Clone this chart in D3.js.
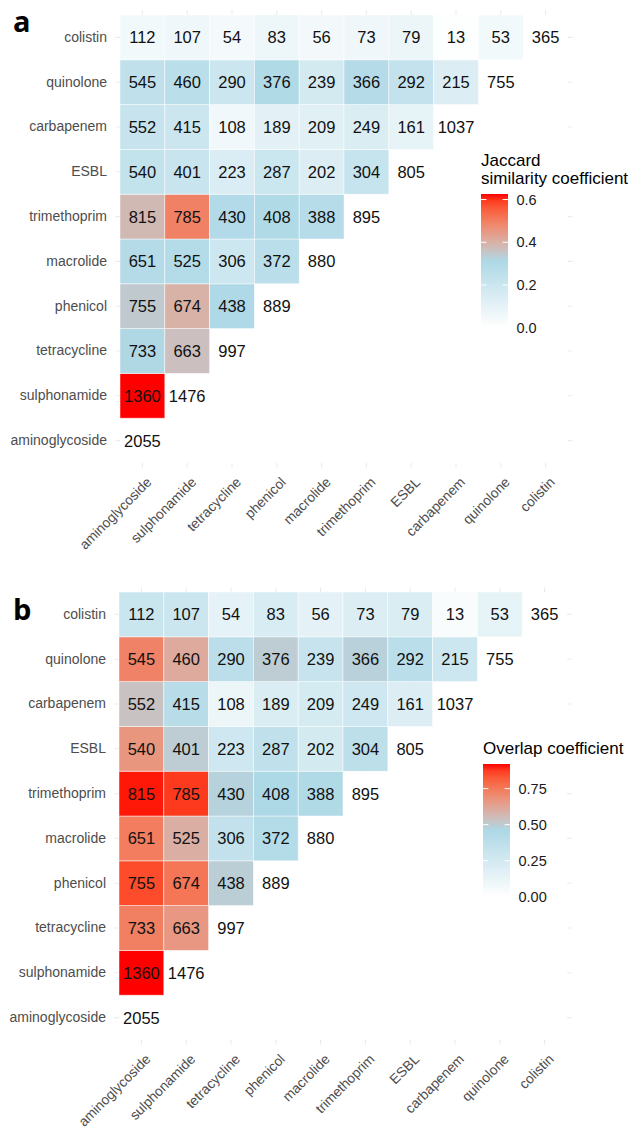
<!DOCTYPE html>
<html>
<head>
<meta charset="utf-8">
<script src="https://cdn.jsdelivr.net/npm/d3@7/dist/d3.min.js"></script>
<style>
  html, body { margin: 0; padding: 0; background: #fff; }
  svg { display: block; font-family: "Liberation Sans", Arial, Helvetica, sans-serif; }
</style>
</head>
<body>
<svg id="chart" width="632" height="1130"></svg>
<script>
// Antimicrobial resistance classes, in axis order (x: left to right, y: bottom to top)
const classes = ["aminoglycoside", "sulphonamide", "tetracycline", "phenicol", "macrolide",
                 "trimethoprim", "ESBL", "carbapenem", "quinolone", "colistin"];

// Co-occurrence counts; row i holds columns 0..i, the last entry is the diagonal (class total)
const counts = [
  [2055],
  [1360, 1476],
  [733, 663, 997],
  [755, 674, 438, 889],
  [651, 525, 306, 372, 880],
  [815, 785, 430, 408, 388, 895],
  [540, 401, 223, 287, 202, 304, 805],
  [552, 415, 108, 189, 209, 249, 161, 1037],
  [545, 460, 290, 376, 239, 366, 292, 215, 755],
  [112, 107, 54, 83, 56, 73, 79, 13, 53, 365]
];

// Jaccard similarity coefficient for each off-diagonal pair (row i, columns 0..i-1)
const jaccard = [
  [],
  [0.626],
  [0.316, 0.366],
  [0.345, 0.399, 0.302],
  [0.285, 0.287, 0.195, 0.266],
  [0.382, 0.495, 0.294, 0.297, 0.280],
  [0.233, 0.213, 0.141, 0.204, 0.136, 0.218],
  [0.217, 0.198, 0.056, 0.109, 0.122, 0.148, 0.096],
  [0.241, 0.260, 0.198, 0.297, 0.171, 0.285, 0.230, 0.136],
  [0.049, 0.062, 0.041, 0.071, 0.047, 0.062, 0.072, 0.009, 0.050]
];

// Overlap coefficient for each off-diagonal pair
const overlap = [
  [],
  [0.921],
  [0.735, 0.665],
  [0.849, 0.758, 0.493],
  [0.740, 0.597, 0.348, 0.423],
  [0.911, 0.877, 0.480, 0.459, 0.441],
  [0.671, 0.498, 0.277, 0.357, 0.251, 0.378],
  [0.532, 0.400, 0.108, 0.213, 0.238, 0.278, 0.200],
  [0.722, 0.609, 0.384, 0.498, 0.317, 0.485, 0.387, 0.285],
  [0.307, 0.293, 0.148, 0.227, 0.153, 0.200, 0.216, 0.036, 0.145]
];

const jaccardTicks = [0.0, 0.2, 0.4, 0.6];
const overlapTicks = [0.00, 0.25, 0.50, 0.75];
const palette = ["white", "lightblue", "red"];

const svg = d3.select("#chart");

const panels = [
  { tag: "a", values: jaccard, ticks: jaccardTicks, fmt: ".1f",
    title: ["Jaccard", "similarity coefficient"],
    x0: 120, y0: 15, tagY: 32,
    legX: 481, legTitleY: 166, barTop: 194, barBottom: 327.7 },
  { tag: "b", values: overlap, ticks: overlapTicks, fmt: ".2f",
    title: ["Overlap coefficient"],
    x0: 119, y0: 592, tagY: 620,
    legX: 483, legTitleY: 754, barTop: 764, barBottom: 896.7 }
];

const size = 448;     // 10 cells of 44.8 px
const expand = 4.5;   // discrete-scale padding around the tiles

panels.forEach((p, pi) => {
  const g = svg.append("g");

  const x = d3.scaleBand().domain(classes).range([p.x0, p.x0 + size]);
  const y = d3.scaleBand().domain(classes.slice().reverse()).range([p.y0, p.y0 + size]);
  const bw = x.bandwidth();

  // tidy cell list
  const cells = [];
  counts.forEach((row, i) => {
    row.forEach((n, j) => {
      cells.push({ row: classes[i], col: classes[j], n, diag: i === j,
                   v: i === j ? null : p.values[i][j] });
    });
  });

  const vmax = d3.max(cells, d => d.v);
  const color = d3.scaleLinear()
    .domain([0, vmax / 2, vmax])
    .range(palette)
    .interpolate(d3.interpolateLab);

  // panel grid (only visible in the expansion margin)
  const left = p.x0 - expand, right = p.x0 + size + expand;
  const top = p.y0 - expand, bottom = p.y0 + size + expand;
  g.append("g").selectAll("line").data(classes).join("line")
    .attr("x1", d => x(d) + bw / 2).attr("x2", d => x(d) + bw / 2)
    .attr("y1", top).attr("y2", bottom)
    .attr("stroke", "#ebebeb").attr("stroke-width", 1.1);
  g.append("g").selectAll("line").data(classes).join("line")
    .attr("y1", d => y(d) + bw / 2).attr("y2", d => y(d) + bw / 2)
    .attr("x1", left).attr("x2", right)
    .attr("stroke", "#ebebeb").attr("stroke-width", 1.1);

  // blank background for every cell of the square
  const all = [];
  classes.forEach(r => classes.forEach(c => all.push({ r, c })));
  g.append("g").selectAll("rect").data(all).join("rect")
    .attr("x", d => x(d.c)).attr("y", d => y(d.r))
    .attr("width", bw).attr("height", bw)
    .attr("fill", "white");

  // coloured tiles
  g.append("g").selectAll("rect").data(cells.filter(d => !d.diag)).join("rect")
    .attr("x", d => x(d.col)).attr("y", d => y(d.row))
    .attr("width", bw).attr("height", bw)
    .attr("fill", d => color(d.v))
    .attr("stroke", "white").attr("stroke-opacity", 0.6).attr("stroke-width", 0.8);

  // counts
  g.append("g").selectAll("text").data(cells).join("text")
    .attr("x", d => x(d.col) + bw / 2)
    .attr("y", d => y(d.row) + bw / 2)
    .attr("dy", "0.36em")
    .attr("text-anchor", "middle")
    .attr("font-size", 16.5)
    .attr("fill", "#111")
    .text(d => d.n);

  // y axis
  const yAxis = g.append("g")
    .attr("transform", `translate(${left},0)`)
    .call(d3.axisLeft(y).tickSize(0).tickPadding(8.5));
  yAxis.select(".domain").remove();
  yAxis.selectAll("text")
    .attr("font-size", 14)
    .attr("font-family", "Liberation Sans, Arial, sans-serif")
    .attr("fill", "#4d4d4d");

  // x axis, labels at 45 degrees
  const xAxis = g.append("g")
    .attr("transform", `translate(0,${bottom})`)
    .call(d3.axisBottom(x).tickSize(0));
  xAxis.select(".domain").remove();
  xAxis.selectAll("text")
    .attr("x", 0).attr("y", 0).attr("dy", 0)
    .attr("transform", "translate(10,15.5) rotate(-45)")
    .attr("text-anchor", "end")
    .attr("font-size", 13.8)
    .attr("font-family", "Liberation Sans, Arial, sans-serif")
    .attr("fill", "#4d4d4d");

  // panel tag
  svg.append("text")
    .attr("x", 13).attr("y", p.tagY)
    .attr("font-family", "Open Sans, Liberation Sans, Arial, sans-serif")
    .attr("font-weight", 700)
    .attr("font-size", 29)
    .attr("fill", "#000")
    .text(p.tag);

  // colour bar legend
  const barW = 27;
  const leg = svg.append("g");
  p.title.forEach((t, k) => {
    leg.append("text")
      .attr("x", p.legX).attr("y", p.legTitleY + k * 17.5)
      .attr("font-size", 17)
      .attr("fill", "#000")
      .text(t);
  });

  const ly = d3.scaleLinear().domain([0, vmax]).range([p.barBottom, p.barTop]);
  const gradId = "grad" + pi;
  const grad = svg.append("defs").append("linearGradient")
    .attr("id", gradId).attr("x1", 0).attr("y1", 1).attr("x2", 0).attr("y2", 0);
  d3.range(0, 1.0001, 0.05).forEach(t => {
    grad.append("stop").attr("offset", t).attr("stop-color", color(t * vmax));
  });
  leg.append("rect")
    .attr("x", p.legX).attr("y", p.barTop)
    .attr("width", barW).attr("height", p.barBottom - p.barTop)
    .attr("fill", `url(#${gradId})`);

  const legAxis = leg.append("g")
    .attr("transform", `translate(${p.legX + barW},0)`)
    .call(d3.axisRight(ly).tickValues(p.ticks).tickFormat(d3.format(p.fmt))
      .tickSize(0).tickPadding(8.5));
  legAxis.select(".domain").remove();
  legAxis.selectAll("text")
    .attr("font-size", 14.5)
    .attr("font-family", "Liberation Sans, Arial, sans-serif")
    .attr("fill", "#1a1a1a");

  // white tick marks on both edges of the bar
  leg.append("g").selectAll("line").data(p.ticks.filter(t => t > 0)).join("line")
    .attr("x1", p.legX).attr("x2", p.legX + 5.4)
    .attr("y1", d => ly(d)).attr("y2", d => ly(d))
    .attr("stroke", "white").attr("stroke-width", 1);
  leg.append("g").selectAll("line").data(p.ticks.filter(t => t > 0)).join("line")
    .attr("x1", p.legX + barW - 5.4).attr("x2", p.legX + barW)
    .attr("y1", d => ly(d)).attr("y2", d => ly(d))
    .attr("stroke", "white").attr("stroke-width", 1);
});
</script>
</body>
</html>
